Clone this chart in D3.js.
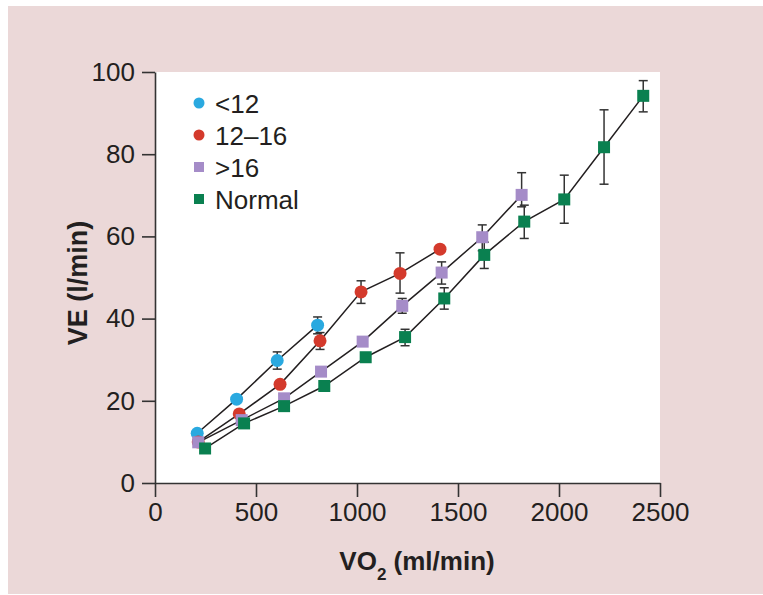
<!DOCTYPE html>
<html>
<head>
<meta charset="utf-8">
<script src="https://cdn.jsdelivr.net/npm/d3@7"></script>
<style>
  html, body { margin: 0; padding: 0; background: #ffffff; }
  svg { display: block; }
  text { font-family: "Liberation Sans", Arial, Helvetica, sans-serif; fill: #231f20; }
</style>
</head>
<body>
<svg id="chart" width="763" height="595"></svg>
<script>
// ---- Data ----
const seriesNames = ["<12", "12\u201316", ">16", "Normal"];
const seriesColors = ["#2aa9e0", "#d43a2c", "#a58cc8", "#0a8050"];
const seriesShapes = ["circle", "circle", "square", "square"];

const lt12X = [209, 404, 605, 805];
const lt12Y = [12.1, 20.4, 29.8, 38.4];
const lt12Lo = [null, null, 27.7, 36.3];
const lt12Hi = [null, null, 31.9, 40.4];

const mid16X = [214, 417, 619, 817, 1020, 1213, 1411];
const mid16Y = [10.0, 16.8, 24.0, 34.6, 46.5, 51.0, 56.9];
const mid16Lo = [null, null, null, 32.5, 43.7, 46.2, null];
const mid16Hi = [null, null, null, 36.6, 49.2, 56.0, null];

const gt16X = [214, 429, 639, 822, 1028, 1224, 1419, 1620, 1815];
const gt16Y = [9.9, 15.3, 20.6, 27.1, 34.4, 43.1, 51.2, 59.8, 70.1];
const gt16Lo = [null, null, null, null, null, 41.3, 48.4, 56.5, 67.2];
const gt16Hi = [null, null, null, null, null, 44.9, 53.8, 62.8, 75.5];

const normX = [248, 441, 639, 838, 1043, 1238, 1432, 1630, 1828, 2026, 2223, 2417];
const normY = [8.4, 14.5, 18.7, 23.6, 30.6, 35.5, 44.9, 55.5, 63.6, 69.0, 81.7, 94.2];
const normLo = [null, null, null, null, null, 33.4, 42.3, 52.2, 59.5, 63.2, 72.7, 90.3];
const normHi = [null, null, null, null, null, 37.4, 47.5, 58.6, 67.6, 74.9, 90.8, 97.9];

const xTicks = [0, 500, 1000, 1500, 2000, 2500];
const yTicks = [0, 20, 40, 60, 80, 100];

// ---- Build series table ----
const seriesX = [lt12X, mid16X, gt16X, normX];
const seriesY = [lt12Y, mid16Y, gt16Y, normY];
const seriesLo = [lt12Lo, mid16Lo, gt16Lo, normLo];
const seriesHi = [lt12Hi, mid16Hi, gt16Hi, normHi];
const series = seriesNames.map((name, i) => ({
  name, color: seriesColors[i], shape: seriesShapes[i],
  points: seriesX[i].map((x, j) => ({ x, y: seriesY[i][j], lo: seriesLo[i][j], hi: seriesHi[i][j] }))
}));

const svg = d3.select("#chart");

// Background panel
svg.append("rect").attr("x", 8).attr("y", 6).attr("width", 755).attr("height", 588).attr("fill", "#ebd8d8");

const x = d3.scaleLinear().domain([0, 2500]).range([155, 660]);
const y = d3.scaleLinear().domain([0, 100]).range([483, 72]);

// White plot area
svg.append("rect").attr("x", x(0)).attr("y", y(100))
  .attr("width", x(2500) - x(0)).attr("height", y(0) - y(100)).attr("fill", "#ffffff");

// Axes
const yAxis = d3.axisLeft(y).tickValues(yTicks).tickFormat(d3.format("d")).tickSize(13).tickSizeOuter(0).tickPadding(7);
const xAxis = d3.axisBottom(x).tickValues(xTicks).tickFormat(d3.format("d")).tickSize(14).tickSizeOuter(0).tickPadding(6);

const gy = svg.append("g").attr("transform", `translate(${x(0)},0)`).call(yAxis);
const gx = svg.append("g").attr("transform", `translate(0,${y(0)})`).call(xAxis);
[gx, gy].forEach(g => {
  g.select(".domain").attr("stroke", "#333").attr("stroke-width", 1.6);
  g.selectAll(".tick line").attr("stroke", "#333").attr("stroke-width", 1.6);
  g.selectAll(".tick text").style("font-size", "26px").style("font-family", '"Liberation Sans", Arial, sans-serif').attr("fill", "#231f20");
});

// Axis titles
const xt = svg.append("text").attr("x", 417).attr("y", 570).attr("text-anchor", "middle")
  .style("font-size", "26px").style("font-weight", "bold");
xt.append("tspan").text("VO");
xt.append("tspan").attr("dy", 10).style("font-size", "17px").text("2");
xt.append("tspan").attr("dy", -10).text(" (ml/min)");

svg.append("text").attr("transform", `translate(87,${283}) rotate(-90)`)
  .attr("text-anchor", "middle").style("font-size", "27px").style("font-weight", "bold")
  .text("VE (l/min)");

// Lines
const line = d3.line().x(d => x(d.x)).y(d => y(d.y));
series.forEach(s => {
  svg.append("path").datum(s.points).attr("d", line)
    .attr("fill", "none").attr("stroke", "#231f20").attr("stroke-width", 1.5);
});

// Error bars
series.forEach(s => {
  const eb = svg.append("g").attr("stroke", "#333").attr("stroke-width", 1.5);
  s.points.filter(p => p.lo != null).forEach(p => {
    const cx = x(p.x);
    eb.append("line").attr("x1", cx).attr("x2", cx).attr("y1", y(p.lo)).attr("y2", y(p.hi));
    eb.append("line").attr("x1", cx - 4.5).attr("x2", cx + 4.5).attr("y1", y(p.lo)).attr("y2", y(p.lo));
    eb.append("line").attr("x1", cx - 4.5).attr("x2", cx + 4.5).attr("y1", y(p.hi)).attr("y2", y(p.hi));
  });
});

// Markers
series.forEach(s => {
  const g = svg.append("g");
  s.points.forEach(p => {
    if (s.shape === "circle") {
      g.append("circle").attr("cx", x(p.x)).attr("cy", y(p.y)).attr("r", 6.5).attr("fill", s.color);
    } else {
      g.append("rect").attr("x", x(p.x) - 6).attr("y", y(p.y) - 6).attr("width", 12).attr("height", 12).attr("fill", s.color);
    }
  });
});

// Legend
const legend = svg.append("g");
series.forEach((s, i) => {
  const ly = 103 + i * 32;
  if (s.shape === "circle") {
    legend.append("circle").attr("cx", 199).attr("cy", ly).attr("r", 5.5).attr("fill", s.color);
  } else {
    legend.append("rect").attr("x", 194).attr("y", ly - 5).attr("width", 10).attr("height", 10).attr("fill", s.color);
  }
  legend.append("text").attr("x", 215).attr("y", ly + 9.5).style("font-size", "26px").text(s.name);
});
</script>
</body>
</html>
